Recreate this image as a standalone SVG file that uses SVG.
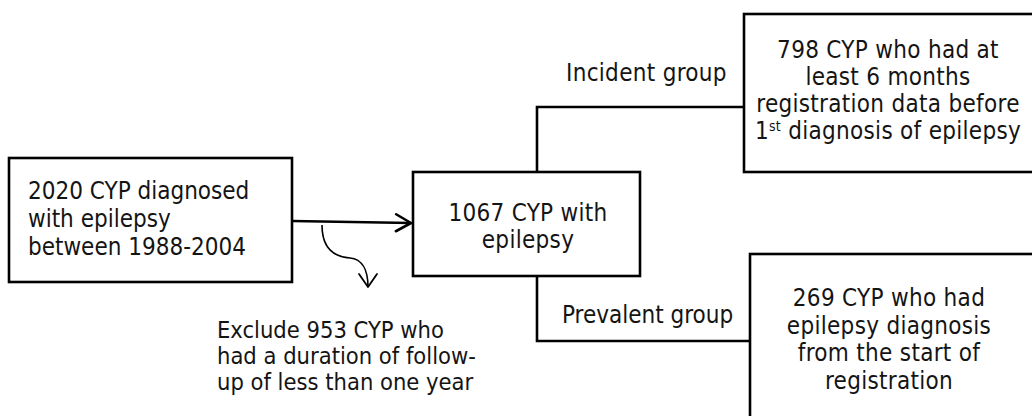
<svg xmlns="http://www.w3.org/2000/svg" width="1032" height="416" viewBox="0 0 1032 416">
  <style>
    .box { fill: #ffffff; stroke: #000000; stroke-width: 2.6; }
    .link { fill: none; stroke: #000000; stroke-width: 2.6; }
    .thin { fill: none; stroke: #000000; stroke-width: 1.6; }
    text { font-family: "DejaVu Sans Condensed", "DejaVu Sans", sans-serif; font-stretch: condensed; font-size: 24px; fill: #141414; }
    .mid { text-anchor: middle; }
    .wide { letter-spacing: 0.3px; }
    .note { font-size: 23.5px; }
    .sup { font-size: 14px; }
  </style>
  <defs>
    <marker id="chevron" markerUnits="userSpaceOnUse" markerWidth="20" markerHeight="20" refX="0" refY="0" viewBox="-17 -10 20 20" orient="auto" overflow="visible">
      <path d="M-15,-8.5 L0,0 L-15,8.5" fill="none" stroke="#000" stroke-width="2.6" stroke-linecap="round" stroke-linejoin="round"/>
    </marker>
    <marker id="chevron-small" markerUnits="userSpaceOnUse" markerWidth="20" markerHeight="20" refX="0" refY="0" viewBox="-15 -10 18 20" orient="auto" overflow="visible">
      <path d="M-13,-9 L0,0 L-13,9" fill="none" stroke="#000" stroke-width="1.8" stroke-linecap="round" stroke-linejoin="round"/>
    </marker>
  </defs>

  <!-- connectors -->
  <g id="connectors">
    <path class="link" d="M292,221 L411,223" marker-end="url(#chevron)"/>
    <path class="thin" d="M322,225 C322,250 335,257 350,258 C362,259 368,270 368,287" marker-end="url(#chevron-small)"/>
    <path class="link" d="M537,172 V107 H744"/>
    <path class="link" d="M537,276 V341 H750"/>
  </g>

  <!-- starting cohort -->
  <g id="cohort">
    <rect class="box" x="9" y="158" width="283" height="124"/>
    <text x="28" y="199">2020 CYP diagnosed</text>
    <text x="28" y="227">with epilepsy</text>
    <text x="28" y="255">between 1988-2004</text>
  </g>

  <!-- exclusion note -->
  <g id="excluded">
    <text class="note" x="217" y="338">Exclude 953 CYP who</text>
    <text class="note" x="217" y="364">had a duration of follow-</text>
    <text class="note" x="217" y="390">up of less than one year</text>
  </g>

  <!-- retained cohort -->
  <g id="retained">
    <rect class="box" x="413" y="172" width="227" height="104"/>
    <text class="mid wide" x="528" y="221">1067 CYP with</text>
    <text class="mid wide" x="528" y="248">epilepsy</text>
  </g>

  <!-- branch labels -->
  <g id="label-incident">
    <text class="wide" x="566" y="81">Incident group</text>
  </g>
  <g id="label-prevalent">
    <text x="562" y="323">Prevalent group</text>
  </g>

  <!-- incident group -->
  <g id="incident">
    <rect class="box" x="744" y="14" width="300" height="158"/>
    <text class="mid wide" x="888" y="58">798 CYP who had at</text>
    <text class="mid wide" x="888" y="85">least 6 months</text>
    <text class="mid wide" x="888" y="112">registration data before</text>
    <text class="mid wide" x="888" y="139">1<tspan class="sup" baseline-shift="super">st</tspan> diagnosis of epilepsy</text>
  </g>

  <!-- prevalent group -->
  <g id="prevalent">
    <rect class="box" x="750" y="254" width="300" height="200"/>
    <text class="mid wide" x="889" y="306">269 CYP who had</text>
    <text class="mid wide" x="889" y="334">epilepsy diagnosis</text>
    <text class="mid wide" x="889" y="361">from the start of</text>
    <text class="mid wide" x="889" y="389">registration</text>
  </g>
</svg>
